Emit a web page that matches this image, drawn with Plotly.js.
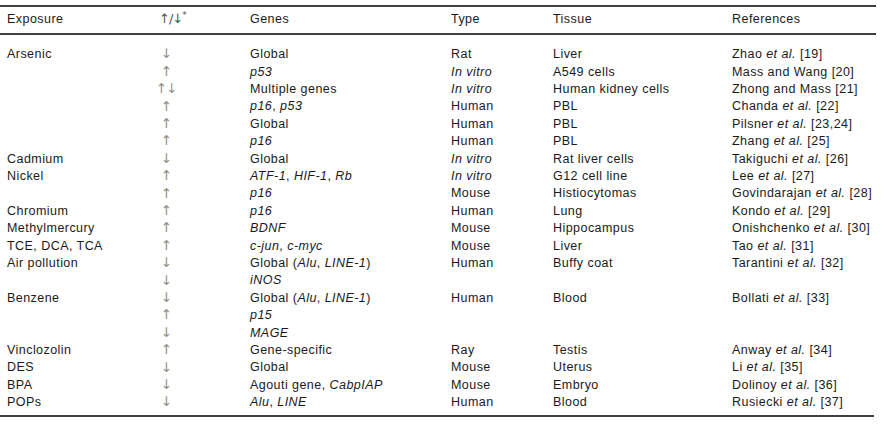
<!DOCTYPE html>
<html>
<head>
<meta charset="utf-8">
<script src="https://cdn.plot.ly/plotly-3.0.1.min.js"></script>
<style>
html,body{margin:0;padding:0;background:#fff;}
#chart{width:885px;height:426px;}
#chart .textpoint text{letter-spacing:0.45px;}
#chart .tracearr .textpoint text, #chart .traceharr .textpoint text{letter-spacing:-1px;}
</style>
</head>
<body>
<div id="chart"></div>
<script>
// ---- table data ----
const headers = ["Exposure", "\u2191/\u2193<sup>*</sup>", "Genes", "Type", "Tissue", "References"];

const exposure = ["Arsenic", "", "", "", "", "", "Cadmium", "Nickel", "", "Chromium", "Methylmercury",
  "TCE, DCA, TCA", "Air pollution", "", "Benzene", "", "", "Vinclozolin", "DES", "BPA", "POPs"];

const direction = ["\u2193", "\u2191", "\u2191\u2193", "\u2191", "\u2191", "\u2191", "\u2193", "\u2191", "\u2191", "\u2191", "\u2191",
  "\u2191", "\u2193", "\u2193", "\u2193", "\u2191", "\u2193", "\u2191", "\u2193", "\u2193", "\u2193"];

const genes = ["Global", "<i>p53</i>", "Multiple genes", "<i>p16</i>, <i>p53</i>", "Global", "<i>p16</i>", "Global",
  "<i>ATF-1</i>, <i>HIF-1</i>, <i>Rb</i>", "<i>p16</i>", "<i>p16</i>", "<i>BDNF</i>", "<i>c-jun</i>, <i>c-myc</i>",
  "Global (<i>Alu</i>, <i>LINE-1</i>)", "<i>iNOS</i>", "Global (<i>Alu</i>, <i>LINE-1</i>)", "<i>p15</i>", "<i>MAGE</i>",
  "Gene-specific", "Global", "Agouti gene, <i>CabpIAP</i>", "<i>Alu</i>, <i>LINE</i>"];

const types = ["Rat", "<i>In vitro</i>", "<i>In vitro</i>", "Human", "Human", "Human", "<i>In vitro</i>", "<i>In vitro</i>",
  "Mouse", "Human", "Mouse", "Mouse", "Human", "", "Human", "", "", "Ray", "Mouse", "Mouse", "Human"];

const tissues = ["Liver", "A549 cells", "Human kidney cells", "PBL", "PBL", "PBL", "Rat liver cells", "G12 cell line",
  "Histiocytomas", "Lung", "Hippocampus", "Liver", "Buffy coat", "", "Blood", "", "", "Testis", "Uterus", "Embryo", "Blood"];

const references = ["Zhao <i>et al.</i> [19]", "Mass and Wang [20]", "Zhong and Mass [21]", "Chanda <i>et al.</i> [22]",
  "Pilsner <i>et al.</i> [23,24]", "Zhang <i>et al.</i> [25]", "Takiguchi <i>et al.</i> [26]", "Lee <i>et al.</i> [27]",
  "Govindarajan <i>et al.</i> [28]", "Kondo <i>et al.</i> [29]", "Onishchenko <i>et al.</i> [30]", "Tao <i>et al.</i> [31]",
  "Tarantini <i>et al.</i> [32]", "", "Bollati <i>et al.</i> [33]", "", "", "Anway <i>et al.</i> [34]", "Li <i>et al.</i> [35]",
  "Dolinoy <i>et al.</i> [36]", "Rusiecki <i>et al.</i> [37]"];

// ---- layout constants ----
const W = 885, H = 426;
const rowTop = 55, rowStep = 17.4;          // pixel centre of first row, row pitch
const headerPix = 20;
const colX = [7, 166, 250, 451, 553, 732];  // column left edges (arrow column is centred)
const FONT = "Liberation Sans, Arial, Helvetica, sans-serif";
const FS = 12.5;
const TXT = "#1a1a1a";

const pixToRow = p => (p - rowTop) / rowStep;
const headerRow = pixToRow(headerPix);

function col(xpos, texts, pos, color, family, size, uid) {
  const idx = texts.map((t, i) => i).filter(i => texts[i] !== "");
  const tr = {
    type: "scatter", mode: "text",
    x: idx.map(() => xpos), y: idx, text: idx.map(i => texts[i]),
    textposition: pos,
    textfont: {family: family || FONT, size: size || FS, color: color || TXT},
    hoverinfo: "skip", showlegend: false, cliponaxis: false
  };
  if (uid) tr.uid = uid;
  return tr;
}

const traces = [
  col(colX[0], exposure, "middle right"),
  col(colX[1], direction, "middle center", "#8f8f8f", "DejaVu Sans, sans-serif", 13.5, "arr"),
  col(colX[2], genes, "middle right"),
  col(colX[3], types, "middle right"),
  col(colX[4], tissues, "middle right"),
  col(colX[5], references, "middle right"),
  {
    type: "scatter", mode: "text",
    x: [colX[0], colX[2], colX[3], colX[4], colX[5]],
    y: [headerRow, headerRow, headerRow, headerRow, headerRow],
    text: [headers[0], headers[2], headers[3], headers[4], headers[5]],
    textposition: "middle right",
    textfont: {family: FONT, size: FS, color: TXT},
    hoverinfo: "skip", showlegend: false, cliponaxis: false
  },
  {
    type: "scatter", mode: "text", uid: "harr",
    x: [colX[1] - 7], y: [headerRow], text: [headers[1]],
    textposition: "middle right",
    textfont: {family: "DejaVu Sans, sans-serif", size: 13, color: "#555"},
    hoverinfo: "skip", showlegend: false, cliponaxis: false
  }
];

const hline = (p, x0, x1, w) => ({
  type: "line", xref: "x", yref: "paper",
  x0: x0, x1: x1, y0: 1 - p / H, y1: 1 - p / H,
  line: {color: "#000", width: w}
});

const layout = {
  width: W, height: H,
  margin: {l: 0, r: 0, t: 0, b: 0},
  paper_bgcolor: "#fff", plot_bgcolor: "#fff",
  xaxis: {range: [0, W], visible: false, fixedrange: true},
  yaxis: {range: [pixToRow(H), pixToRow(0)], visible: false, fixedrange: true},
  shapes: [
    hline(6, 0, 876, 1.5),
    hline(34, 0, 876, 1.5),
    hline(416, 0, 874, 1.5)
  ]
};

Plotly.newPlot("chart", traces, layout, {displayModeBar: false, staticPlot: true});
</script>
</body>
</html>
